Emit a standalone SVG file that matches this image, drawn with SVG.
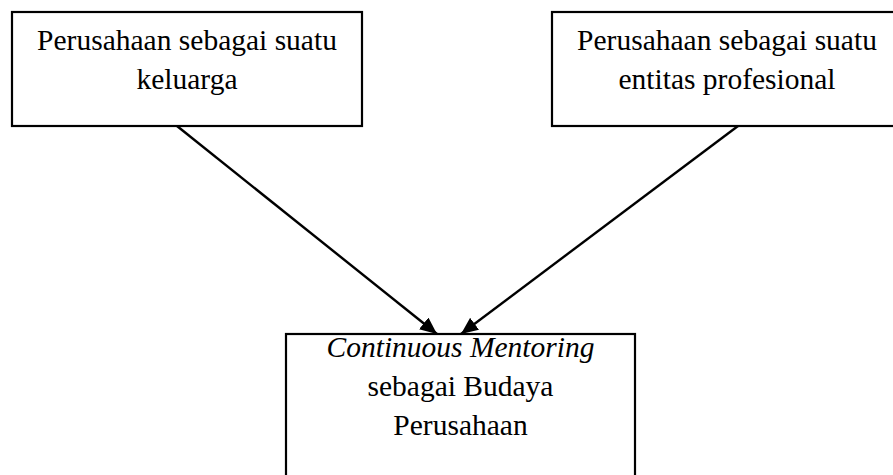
<svg xmlns="http://www.w3.org/2000/svg" width="893" height="475" viewBox="0 0 893 475">
  <style>
    .box { fill: #ffffff; stroke: #000000; stroke-width: 2.2; }
    .label { font-family: "Liberation Serif", "Times New Roman", serif; font-size: 29.5px; fill: #000000; text-anchor: middle; }
    .it { font-style: italic; }
    .edge { stroke: #000000; stroke-width: 2.4; fill: none; marker-end: url(#arrow); }
  </style>
  <defs>
    <marker id="arrow" markerUnits="userSpaceOnUse" markerWidth="18" markerHeight="15" refX="17" refY="7.5" orient="auto">
      <path d="M0,0 L17,7.5 L0,15 z" fill="#000000"/>
    </marker>
  </defs>
  <rect width="893" height="475" fill="#ffffff"/>

  <g id="node-keluarga">
    <rect class="box" x="12" y="12" width="350" height="114"/>
    <text class="label" x="187" y="50">Perusahaan sebagai suatu</text>
    <text class="label" x="187" y="89">keluarga</text>
  </g>

  <g id="node-profesional">
    <rect class="box" x="552" y="12" width="350" height="114"/>
    <text class="label" x="727" y="50">Perusahaan sebagai suatu</text>
    <text class="label" x="727" y="89">entitas profesional</text>
  </g>

  <g id="node-budaya">
    <rect class="box" x="286" y="334" width="349" height="160"/>
    <text class="label it" x="460.5" y="357">Continuous Mentoring</text>
    <text class="label" x="460.5" y="396">sebagai Budaya</text>
    <text class="label" x="460.5" y="435">Perusahaan</text>
  </g>

  <g id="connectors">
    <line class="edge" x1="177" y1="126" x2="437" y2="334"/>
    <line class="edge" x1="738" y1="126" x2="461" y2="334"/>
  </g>
</svg>
